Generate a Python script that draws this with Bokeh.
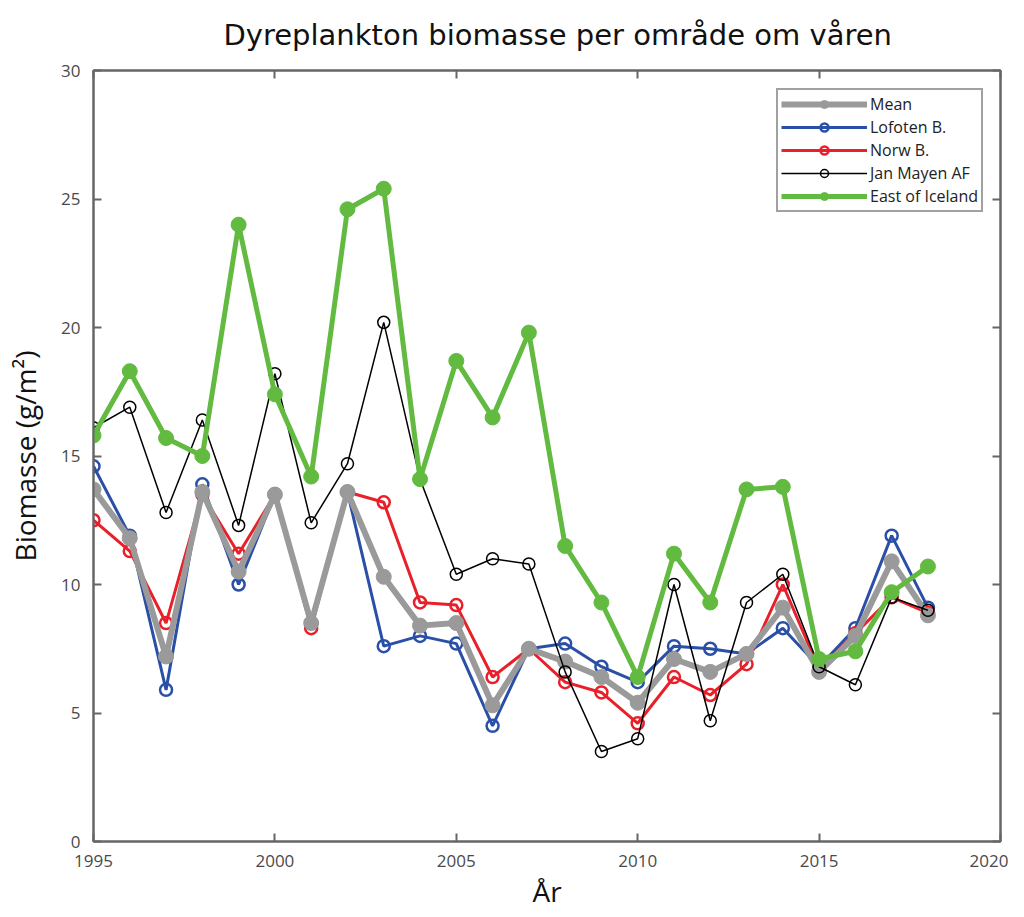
from bokeh.plotting import figure
from bokeh.models import Range1d, LinearAxis, FixedTicker, Legend, LegendItem, Title
from bokeh.embed import file_html
from bokeh.resources import INLINE

years = list(range(1995, 2019))
mean = [13.7, 11.8, 7.2, 13.6, 10.5, 13.5, 8.5, 13.6, 10.3, 8.4, 8.5, 5.3,
        7.5, 7.0, 6.4, 5.4, 7.1, 6.6, 7.3, 9.1, 6.6, 8.0, 10.9, 8.8]
lofoten = [14.6, 11.9, 5.9, 13.9, 10.0, 13.5, 8.5, 13.6, 7.6, 8.0, 7.7, 4.5,
           7.5, 7.7, 6.8, 6.2, 7.6, 7.5, 7.3, 8.3, 6.8, 8.3, 11.9, 9.1]
norw = [12.5, 11.3, 8.5, 13.5, 11.2, 13.5, 8.3, 13.6, 13.2, 9.3, 9.2, 6.4,
        7.5, 6.2, 5.8, 4.6, 6.4, 5.7, 6.9, 10.0, 6.7, 8.1, 9.5, 8.9]
janmayen = [16.1, 16.9, 12.8, 16.4, 12.3, 18.2, 12.4, 14.7, 20.2, 14.1, 10.4, 11.0,
            10.8, 6.6, 3.5, 4.0, 10.0, 4.7, 9.3, 10.4, 6.8, 6.1, 9.5, 9.0]
iceland = [15.8, 18.3, 15.7, 15.0, 24.0, 17.4, 14.2, 24.6, 25.4, 14.1, 18.7, 16.5,
           19.8, 11.5, 9.3, 6.4, 11.2, 9.3, 13.7, 13.8, 7.1, 7.4, 9.7, 10.7]

x_ticks = [1995, 2000, 2005, 2010, 2015, 2020]
y_ticks = [0, 5, 10, 15, 20, 25, 30]

TICKFONT = "Open Sans"
AXIS_C = "#666666"

p = figure(width=1008, height=912, output_backend="svg", toolbar_location=None,
           x_range=Range1d(1995, 2020), y_range=Range1d(0, 30),
           min_border_left=93, min_border_right=8, min_border_top=70,
           min_border_bottom=70, background_fill_color="white",
           border_fill_color="white")
p.grid.visible = False
p.outline_line_color = AXIS_C
p.outline_line_width = 2

for ax in [p.xaxis[0], p.yaxis[0]]:
    ax.major_tick_in = 8
    ax.major_tick_out = 0
    ax.minor_tick_in = 0
    ax.minor_tick_out = 0
    ax.axis_line_color = AXIS_C
    ax.axis_line_width = 2
    ax.major_tick_line_color = AXIS_C
    ax.major_tick_line_width = 2
    ax.major_label_text_font = TICKFONT
    ax.major_label_text_font_size = "17px"
    ax.major_label_text_color = "#4a4a4a"
    ax.axis_label_text_font = "Open Sans"
    ax.axis_label_text_font_style = "normal"
    ax.axis_label_text_font_size = "28px"
    ax.axis_label_text_color = "#111111"

p.xaxis[0].ticker = FixedTicker(ticks=x_ticks)
p.yaxis[0].ticker = FixedTicker(ticks=y_ticks)
p.xaxis[0].axis_label = "År"
p.yaxis[0].axis_label = "Biomasse (g/m²)"
p.xaxis[0].major_label_standoff = 13
p.yaxis[0].major_label_standoff = 13
p.xaxis[0].axis_label_standoff = 2
p.yaxis[0].axis_label_standoff = 14

top_ax = LinearAxis(ticker=FixedTicker(ticks=x_ticks), major_tick_in=8, major_tick_out=0,
                    minor_tick_in=0, minor_tick_out=0, axis_line_color=AXIS_C,
                    axis_line_width=2, major_tick_line_color=AXIS_C, major_tick_line_width=2,
                    major_label_text_font_size="0px", major_label_text_color=None)
right_ax = LinearAxis(ticker=FixedTicker(ticks=y_ticks), major_tick_in=8, major_tick_out=0,
                      minor_tick_in=0, minor_tick_out=0, axis_line_color=AXIS_C,
                      axis_line_width=2, major_tick_line_color=AXIS_C, major_tick_line_width=2,
                      major_label_text_font_size="0px", major_label_text_color=None)
p.add_layout(top_ax, "above")
p.add_layout(right_ax, "right")

p.add_layout(Title(text="Dyreplankton biomasse per område om våren", align="left",
                   text_font="DejaVu Sans", text_font_size="29px", text_font_style="normal",
                   text_color="#111111", offset=130, standoff=34, vertical_align="top"),
             "above")

BLUE = "#2a4fa6"
RED = "#e8202a"
GRAY = "#9a9a9a"
GREEN = "#62bb40"

bl = p.line(years, lofoten, line_color=BLUE, line_width=3)
bc = p.scatter(years, lofoten, size=12, fill_color=None, line_color=BLUE, line_width=2.5)
rl = p.line(years, norw, line_color=RED, line_width=3)
rc = p.scatter(years, norw, size=12, fill_color=None, line_color=RED, line_width=2.5)
gl = p.line(years, mean, line_color=GRAY, line_width=6)
gc = p.scatter(years, mean, size=15, fill_color=GRAY, line_color=GRAY)
kl = p.line(years, janmayen, line_color="black", line_width=1.5)
kc = p.scatter(years, janmayen, size=12, fill_color=None, line_color="black", line_width=1.5)
el = p.line(years, iceland, line_color=GREEN, line_width=5)
ec = p.scatter(years, iceland, size=15, fill_color=GREEN, line_color=GREEN)

legend = Legend(items=[
    LegendItem(label="Mean", renderers=[gl, gc]),
    LegendItem(label="Lofoten B.", renderers=[bl, bc]),
    LegendItem(label="Norw B.", renderers=[rl, rc]),
    LegendItem(label="Jan Mayen AF", renderers=[kl, kc]),
    LegendItem(label="East of Iceland", renderers=[el, ec]),
], location=(683, 629), margin=0, padding=3, spacing=1, label_height=20,
    glyph_height=20, glyph_width=86, label_standoff=3,
    label_text_font="Open Sans", label_text_font_size="16px", label_text_color="#222222",
    border_line_color="#444444", border_line_width=2, background_fill_alpha=1)
p.add_layout(legend)

open("out.html", "w").write(file_html(p, INLINE))
